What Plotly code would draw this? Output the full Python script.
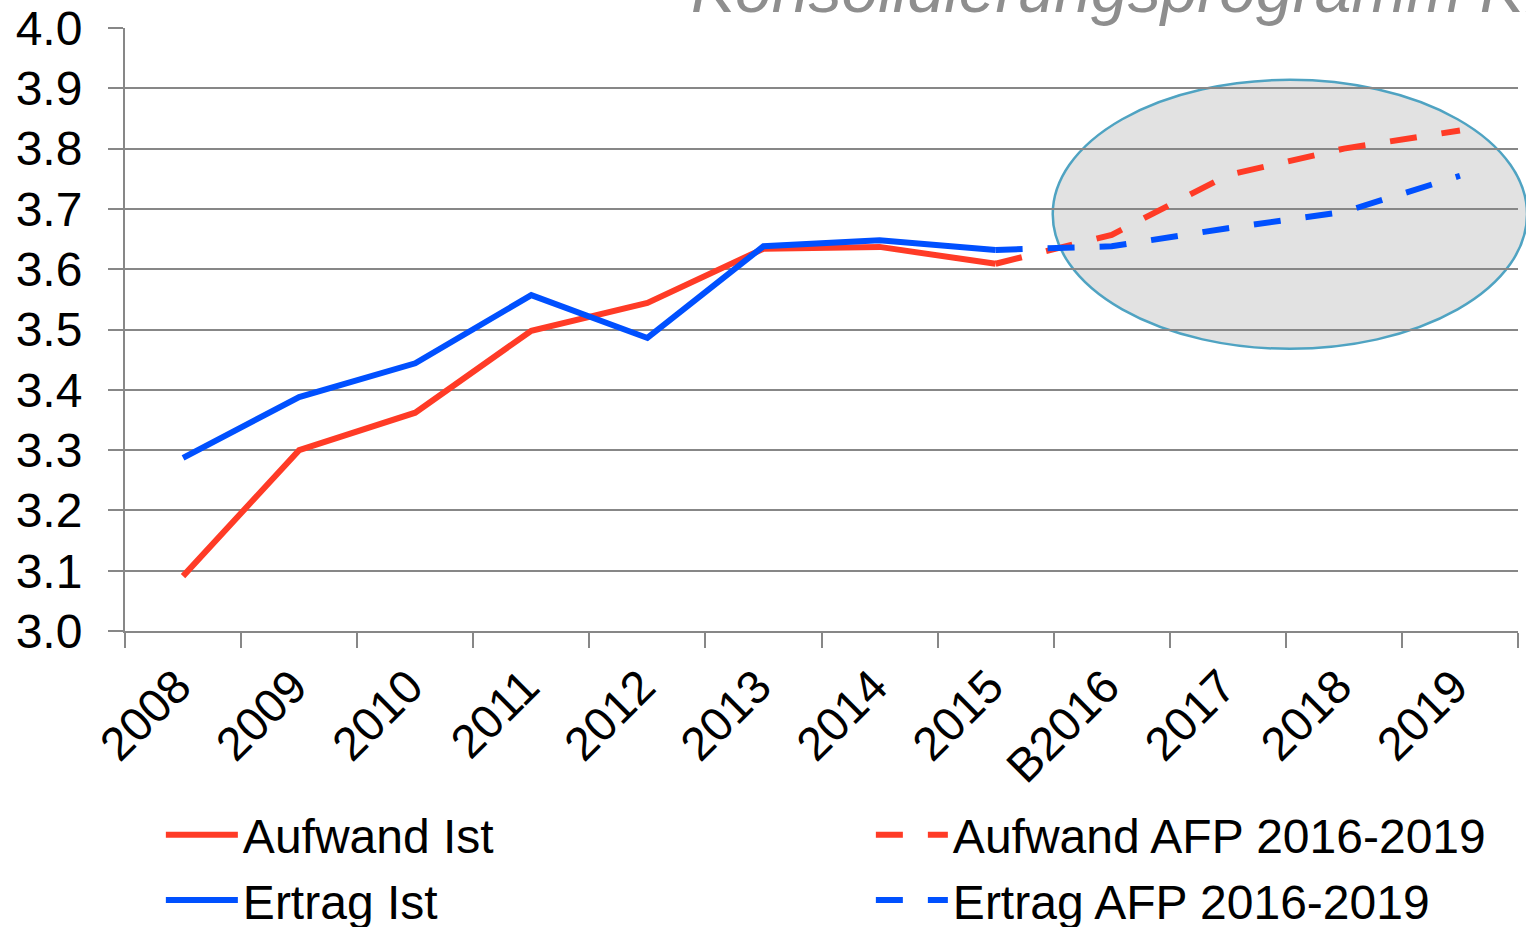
import plotly.graph_objects as go

# Kategorien (Jahre)
years = ["2008", "2009", "2010", "2011", "2012", "2013", "2014", "2015",
         "B2016", "2017", "2018", "2019"]

# Ist-Werte 2008-2015
years_ist = years[:8]
aufwand_ist = [3.091, 3.300, 3.362, 3.498, 3.544, 3.634, 3.637, 3.609]
ertrag_ist = [3.287, 3.388, 3.444, 3.557, 3.486, 3.638, 3.648, 3.632]

# AFP 2016-2019 (ab 2015 angehängt)
years_afp = years[7:]
aufwand_afp = [3.609, 3.657, 3.756, 3.800, 3.830]
ertrag_afp = [3.632, 3.638, 3.668, 3.695, 3.755]

RED = "#FF3B26"
BLUE = "#0050FF"
GRID = "#878787"
FONT = "Liberation Sans, Arial, sans-serif"

fig = go.Figure()
fig.add_trace(go.Scatter(x=years_ist, y=aufwand_ist, mode="lines", name="Aufwand Ist",
                         line=dict(color=RED, width=6)))
fig.add_trace(go.Scatter(x=years_afp, y=aufwand_afp, mode="lines", name="Aufwand AFP 2016-2019",
                         line=dict(color=RED, width=6, dash="27px,25px")))
fig.add_trace(go.Scatter(x=years_ist, y=ertrag_ist, mode="lines", name="Ertrag Ist",
                         line=dict(color=BLUE, width=6)))
fig.add_trace(go.Scatter(x=years_afp, y=ertrag_afp, mode="lines", name="Ertrag AFP 2016-2019",
                         line=dict(color=BLUE, width=6, dash="27px,25px")))

# Markierung der Planjahre
fig.add_shape(type="circle", xref="paper", yref="paper",
              x0=0.666, x1=1.0065, y0=0.468, y1=0.914,
              fillcolor="#E2E2E2", line=dict(color="#4FA3C2", width=2.5),
              layer="below")

fig.add_annotation(text="Konsolidierungsprogramm KP", xref="paper", yref="paper",
                   x=0.4047, y=1, xanchor="left", yanchor="bottom", yshift=0,
                   showarrow=False,
                   font=dict(family=FONT, size=66, color="#8E8E8E", style="italic"))

fig.update_xaxes(type="category", categoryorder="array", categoryarray=years,
                 range=[-0.5, 11.5], tickson="boundaries", ticks="outside",
                 ticklen=15, tickwidth=2, tickcolor=GRID, tickangle=-45,
                 ticklabelstandoff=7, ticklabelshift=-6,
                 showline=True, linecolor=GRID, linewidth=2, showgrid=False,
                 tickfont=dict(family=FONT, size=47, color="black"))
fig.update_yaxes(range=[3.0, 4.0], dtick=0.1, tickformat=".1f", ticks="outside",
                 ticklen=15, tickwidth=2, tickcolor=GRID, ticklabelstandoff=16,
                 ticklabeloverflow="allow",
                 showline=True, linecolor=GRID, linewidth=2,
                 showgrid=True, gridcolor=GRID, gridwidth=2, zeroline=False,
                 tickfont=dict(family=FONT, size=48, color="black"))

fig.update_layout(width=1526, height=927,
                  margin=dict(l=125, r=8, t=28, b=296, autoexpand=False),
                  plot_bgcolor="white", paper_bgcolor="white",
                  font=dict(family=FONT, color="black"),
                  legend=dict(orientation="h", x=-0.0001, xanchor="left",
                              y=-0.2156, yanchor="top",
                              borderwidth=36, bordercolor="rgba(0,0,0,0)",
                              bgcolor="rgba(0,0,0,0)",
                              entrywidth=623, entrywidthmode="pixels",
                              font=dict(family=FONT, size=48, color="black"),
                              tracegroupgap=0, itemwidth=72))

# Seitenrand entfernen, damit die Figur bei (0,0) beginnt
fig.write_html("out.html", config={"displayModeBar": False},
               post_script="document.body.style.margin='0';")
